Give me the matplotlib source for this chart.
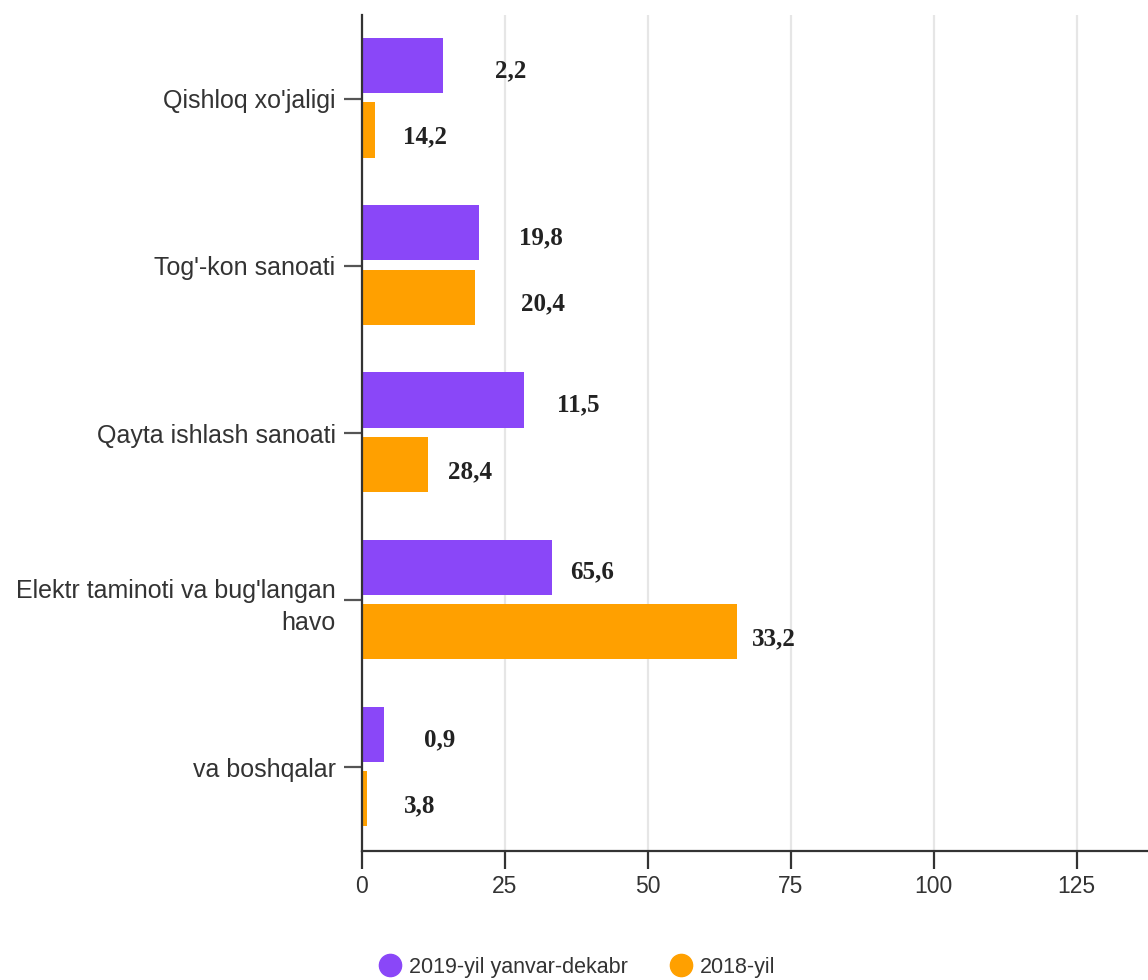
import matplotlib
matplotlib.use("Agg")
import matplotlib.pyplot as plt
from matplotlib.lines import Line2D
import numpy as np

categories = ["Qishloq xo'jaligi", "Tog'-kon sanoati", "Qayta ishlash sanoati",
              "Elektr taminoti va bug'langan\nhavo", "va boshqalar"]
series_names = ["2019-yil yanvar-dekabr", "2018-yil"]
vals_2019 = [14.2, 20.4, 28.4, 33.2, 3.8]
vals_2018 = [2.2, 19.8, 11.5, 65.6, 0.9]
# data labels as printed in the source (they appear swapped relative to bars)
labels_2019 = ["2,2", "19,8", "11,5", "65,6", "0,9"]
labels_2018 = ["14,2", "20,4", "28,4", "33,2", "3,8"]
xticks = [0, 25, 50, 75, 100, 125]

# label horizontal offsets (pixels from bar end)
dx_2019 = [68, 62, 54, 40, 56]
dx_2018 = [50, 68, 42, 37, 53]

purple = "#8A47F8"
orange = "#FFA000"
text_col = "#333333"

fig = plt.figure(figsize=(11.48, 9.80), dpi=100)
ax = fig.add_axes([362/1148, 1-851/980, 1-362/1148, (851-15)/980])

y = np.arange(len(categories))
h = 0.33
ax.barh(y - 0.197, vals_2019, height=h, color=purple, zorder=3)
ax.barh(y + 0.188, vals_2018, height=h, color=orange, zorder=3)

lab_font = dict(family="Liberation Serif", weight="bold", size=18, color="#222222")
for i in range(len(categories)):
    ax.annotate(labels_2019[i], (vals_2019[i], y[i] - 0.197), xytext=(dx_2019[i], -5),
                textcoords="offset pixels", ha="center", va="center", **lab_font)
    ax.annotate(labels_2018[i], (vals_2018[i], y[i] + 0.188), xytext=(dx_2018[i], -7),
                textcoords="offset pixels", ha="center", va="center", **lab_font)

ax.set_xlim(0, (1148-362)/5.717)
ax.set_ylim(len(categories)-0.5, -0.5)
ax.set_xticks(xticks)
ax.set_xticklabels([str(t) for t in xticks])
ax.set_yticks(y)
ax.set_yticklabels(categories, multialignment="right", linespacing=1.45)

for s in ["top", "right"]:
    ax.spines[s].set_visible(False)
for s in ["left", "bottom"]:
    ax.spines[s].set_color("#333333")
    ax.spines[s].set_linewidth(1.6)
    ax.spines[s].set_zorder(4)

ax.grid(axis="x", color="#e6e6e6", linewidth=1.6, zorder=0)
ax.tick_params(axis="x", length=13, width=1.6, color="#333333", pad=4,
               labelsize=16.5, labelcolor=text_col)
ax.tick_params(axis="y", length=13, width=1.6, color="#555555", pad=6,
               labelsize=18, labelcolor=text_col)
for t in ax.get_xticklabels() + ax.get_yticklabels():
    t.set_family("Liberation Sans")

handles = [Line2D([], [], marker="o", linestyle="none", markersize=16, color=purple),
           Line2D([], [], marker="o", linestyle="none", markersize=16, color=orange)]
fig.legend(handles, series_names, loc="center", bbox_to_anchor=(0.5, 1-967/980),
           ncol=2, frameon=False, handletextpad=0.05, handlelength=1.6, columnspacing=1.7,
           prop=dict(family="Liberation Sans", size=15.5), labelcolor=text_col)

fig.savefig("out.png", dpi=100)
